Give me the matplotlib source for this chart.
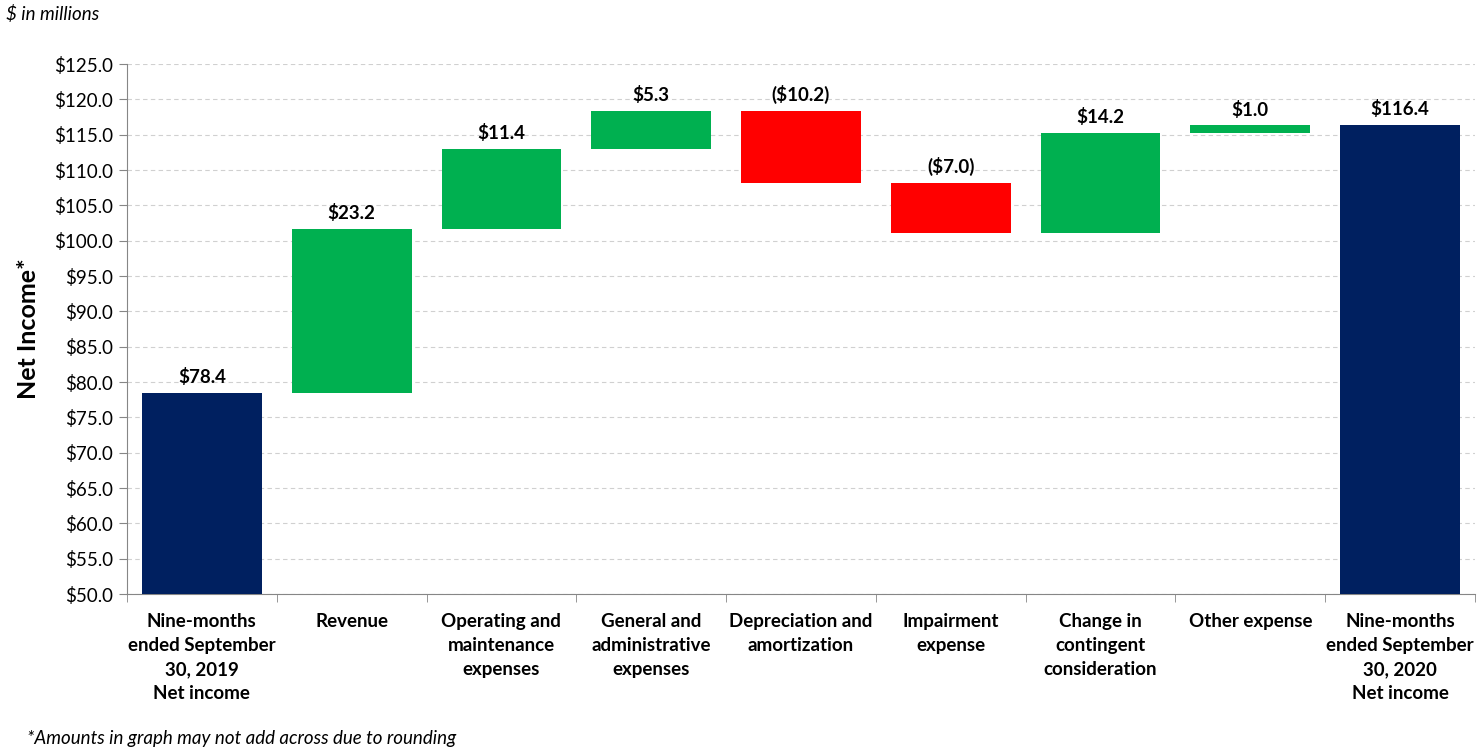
import numpy as np
import matplotlib
matplotlib.use("Agg")
import matplotlib.pyplot as plt

plt.rcParams['font.family'] = ['Lato', 'DejaVu Sans']

# data
categories = [
    "Nine-months\nended September\n30, 2019\nNet income",
    "Revenue",
    "Operating and\nmaintenance\nexpenses",
    "General and\nadministrative\nexpenses",
    "Depreciation and\namortization",
    "Impairment\nexpense",
    "Change in\ncontingent\nconsideration",
    "Other expense",
    "Nine-months\nended September\n30, 2020\nNet income",
]
start_total = 78.4
changes = [23.2, 11.4, 5.3, -10.2, -7.0, 14.2, 1.0]
end_total = 116.4
y_ticks = np.arange(50, 125.1, 5)

NAVY = "#002060"
GREEN = "#00B050"
RED = "#FF0000"

fig = plt.figure(figsize=(14.8, 7.54), dpi=100)
ax = fig.add_axes([0.0858, 0.2122, 0.9108, 0.7029])

x = np.arange(len(categories))
w = 0.8

# totals
ax.bar(x[0], start_total, width=w, color=NAVY, zorder=3)
ax.bar(x[-1], end_total, width=w, color=NAVY, zorder=3)

# floating changes
level = start_total
tops = [start_total]
labels = ["${:.1f}".format(start_total)]
for i, c in enumerate(changes):
    lo = level if c >= 0 else level + c
    ax.bar(x[i + 1], abs(c), bottom=lo, width=w,
           color=GREEN if c >= 0 else RED, zorder=3)
    tops.append(max(level, level + c))
    labels.append("${:.1f}".format(c) if c >= 0 else "(${:.1f})".format(-c))
    level += c
tops.append(end_total)
labels.append("${:.1f}".format(end_total))

for xi, t, lab in zip(x, tops, labels):
    ax.annotate(lab, (xi, t), xytext=(0, 5), textcoords="offset points",
                ha="center", va="bottom", fontsize=13.5, fontweight="bold")

ax.set_xlim(-0.5, len(categories) - 0.5)
ax.set_ylim(50, 125)
ax.set_yticks(y_ticks)
ax.set_yticklabels(["${:.1f}".format(v) for v in y_ticks], fontsize=13.5)
ax.yaxis.grid(True, linestyle=(0, (4, 3)), color="#d0d0d0", linewidth=0.8, zorder=0)

ax.set_xticks(x)
ax.set_xticklabels(categories, fontsize=13.5, fontweight="bold", linespacing=1.5)
ax.tick_params(axis="x", length=0, pad=14)
ax.set_xticks(np.arange(-0.5, len(categories)), minor=True)
ax.tick_params(axis="x", which="minor", length=6, color="#868686")
ax.tick_params(axis="y", length=6, color="#868686", pad=4)

for s in ["top", "right"]:
    ax.spines[s].set_visible(False)
for s in ["left", "bottom"]:
    ax.spines[s].set_color("#868686")

ax.set_ylabel("Net Income*", fontsize=18, fontweight="bold", labelpad=10)

fig.text(0.004, 0.981, "$ in millions", fontsize=13.5, style="italic", va="center")
fig.text(0.018, 0.021, "*Amounts in graph may not add across due to rounding",
         fontsize=13.5, style="italic", va="center")

fig.savefig("out.png", dpi=100)
